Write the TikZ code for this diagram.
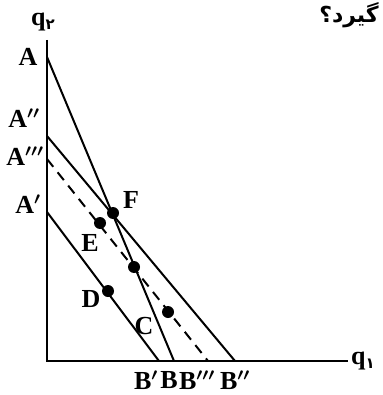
\documentclass[tikz,border=0pt]{standalone}
\usepackage{fontspec}
\setmainfont{Liberation Serif}
\newfontfamily\arabicfont[Script=Arabic]{DejaVu Sans}
\TeXXeTstate=1
\tikzset{
  ln/.style={line width=2pt, black},
  dsh/.style={line width=2pt, black, dash pattern=on 10pt off 7pt},
  dotp/.style={circle, fill=black, inner sep=0pt, minimum size=12pt},
  lbl/.style={font=\fontsize{26}{28}\selectfont\bfseries\boldmath, inner sep=0pt},
}
\begin{document}
\begin{tikzpicture}[x=1pt,y=-1pt]
\useasboundingbox (0,0) rectangle (382,395);
% axes
\coordinate (O) at (47,361);
\coordinate (ytop) at (47,40);
\coordinate (xend) at (348,361);
\draw[ln] (ytop) -- (O) -- (xend);
% intercepts
\coordinate (A) at (47,57);
\coordinate (A2) at (47,136);
\coordinate (A3) at (47,159);
\coordinate (A1) at (47,212);
\coordinate (B) at (174,361);
\coordinate (B2) at (235,361);
\coordinate (B3) at (208,361);
\coordinate (B1) at (159,361);
\draw[ln] (A) -- (B);
\draw[ln] (A2) -- (B2);
\draw[ln] (A1) -- (B1);
\draw[dsh] (A3) -- (B3);
% points
\node[dotp] (F) at (113,213) {};
\node[dotp] (E) at (100,223) {};
\node[dotp] (M) at (134,267) {};
\node[dotp] (D) at (108,291) {};
\node[dotp] (C) at (168,312) {};
% labels
\node[lbl] (lq2) at (43,22) {q\raisebox{-4pt}{\arabicfont\fontsize{15}{16}\selectfont ۲}};
\node[lbl] (lq1) at (363,361) {q\raisebox{-4pt}{\arabicfont\fontsize{15}{16}\selectfont ۱}};
\node[lbl] (lA) at (28,57) {A};
\node[lbl] (lA2) at (24,118) {A$''$};
\node[lbl] (lA3) at (25,156) {A$'''$};
\node[lbl] (lA1) at (28,204) {A$'$};
\node[lbl] (lF) at (131,200) {F};
\node[lbl] (lE) at (90,243) {E};
\node[lbl] (lD) at (91,299) {D};
\node[lbl] (lC) at (144,326) {C};
\node[lbl] (lB1) at (146,380) {B$'$};
\node[lbl] (lB) at (169,380) {B};
\node[lbl] (lB3) at (197,380) {B$'''$};
\node[lbl] (lB2) at (235,380) {B$''$};
\node[inner sep=0pt] (ttl) at (349,15) {\arabicfont\bfseries\fontsize{22}{24}\selectfont\beginR گیرد؟\endR};
\end{tikzpicture}
\end{document}
